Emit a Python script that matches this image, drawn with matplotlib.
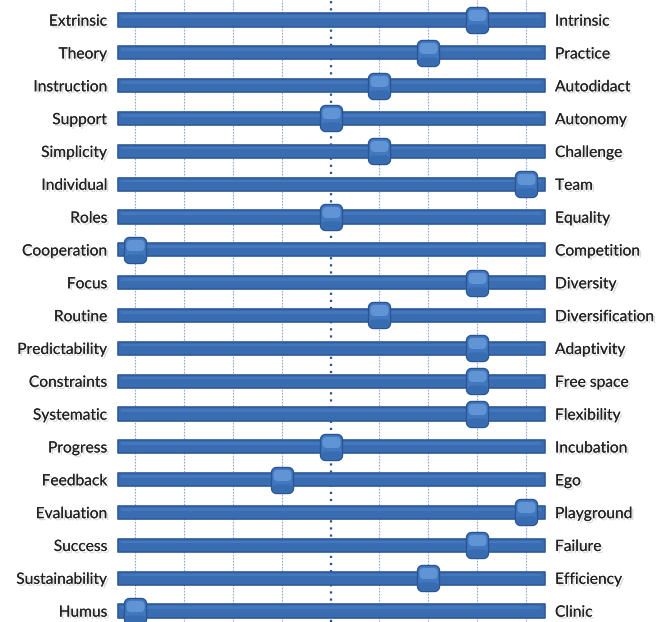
import numpy as np
import matplotlib
matplotlib.use("Agg")
import matplotlib.pyplot as plt
from matplotlib.path import Path
import matplotlib.patheffects as pe

left_labels = [
    "Extrinsic", "Theory", "Instruction", "Support", "Simplicity", "Individual",
    "Roles", "Cooperation", "Focus", "Routine", "Predictability", "Constraints",
    "Systematic", "Progress", "Feedback", "Evaluation", "Success",
    "Sustainability", "Humus",
]
right_labels = [
    "Intrinsic", "Practice", "Autodidact", "Autonomy", "Challenge", "Team",
    "Equality", "Competition", "Diversity", "Diversification", "Adaptivity",
    "Free space", "Flexibility", "Incubation", "Ego", "Playground", "Failure",
    "Efficiency", "Clinic",
]
positions = [3, 2, 1, 0, 1, 4, 0, -4, 3, 1, 3, 3, 3, 0, -1, 4, 3, 2, -4]
grid_values = [-4, -3, -2, -1, 0, 1, 2, 3, 4]


def rounded_rect(w, h, r, dy=0.0, n=8):
    # rounded rectangle polygon in pixel units, centred on (0, dy)
    pts = []
    corners = [(w / 2 - r, h / 2 - r, 0), (-w / 2 + r, h / 2 - r, 90),
               (-w / 2 + r, -h / 2 + r, 180), (w / 2 - r, -h / 2 + r, 270)]
    for cx, cy, a0 in corners:
        for t in np.linspace(a0, a0 + 90, n):
            pts.append((cx + r * np.cos(np.radians(t)), cy + dy + r * np.sin(np.radians(t))))
    pts.append(pts[0])
    return Path(np.array(pts), closed=True)


knob_path = rounded_rect(22, 26, 5)
shine_path = rounded_rect(18, 11, 4, dy=5)
shade_path = rounded_rect(20, 8, 3.5, dy=-8)

fig = plt.figure(figsize=(6.57, 6.22), dpi=100)
ax = fig.add_axes([0, 0, 1, 1])
ax.set_xlim(-6.762, 6.68)
ax.set_ylim(18.335, -0.609)
ax.axis("off")

n = len(left_labels)
rows = np.arange(n)

# vertical grid
for g in grid_values:
    if g == 0:
        ax.axvline(g, color="#2B4F86", lw=1.6, ls=(0, (1, 2.2)), zorder=1)
    else:
        ax.axvline(g, color="#8FA8CC", lw=0.8, ls=(0, (1.5, 1.2)), zorder=1)

# slider tracks
ax.barh(rows, 8.73, left=-4.35, height=0.4, color="#3A6CB2",
        edgecolor="#2E5A98", linewidth=1.2, joinstyle="round", zorder=2)
ax.barh(rows - 0.1, 8.6, left=-4.29, height=0.08, color="#4378BE",
        linewidth=0, zorder=2.1)

# knobs
ax.plot(positions, rows, ls="none", marker=knob_path, markersize=26 * 0.72,
        markerfacecolor="#4278C0", markeredgecolor="#2A5592", markeredgewidth=1.0,
        zorder=3)
ax.plot(positions, rows, ls="none", marker=shade_path, markersize=2 * 12 * 0.72,
        markerfacecolor="#3064A8", markeredgewidth=0, alpha=0.6, zorder=3.1)
ax.plot(positions, rows, ls="none", marker=shine_path, markersize=2 * 10.5 * 0.72,
        markerfacecolor="#7AACE8", markeredgewidth=0, alpha=0.55, zorder=3.2)

shadow = [pe.withSimplePatchShadow(offset=(1.5, -1.5), shadow_rgbFace="#888888", alpha=0.3),
          pe.Normal()]
for i in range(n):
    ax.text(-4.573, rows[i] + 0.05, left_labels[i], ha="right", va="center",
            fontsize=11.2, family="Lato", color="#222222", path_effects=shadow)
    ax.text(4.593, rows[i] + 0.05, right_labels[i], ha="left", va="center",
            fontsize=11.2, family="Lato", color="#222222", path_effects=shadow)

fig.savefig("out.png", dpi=100)
